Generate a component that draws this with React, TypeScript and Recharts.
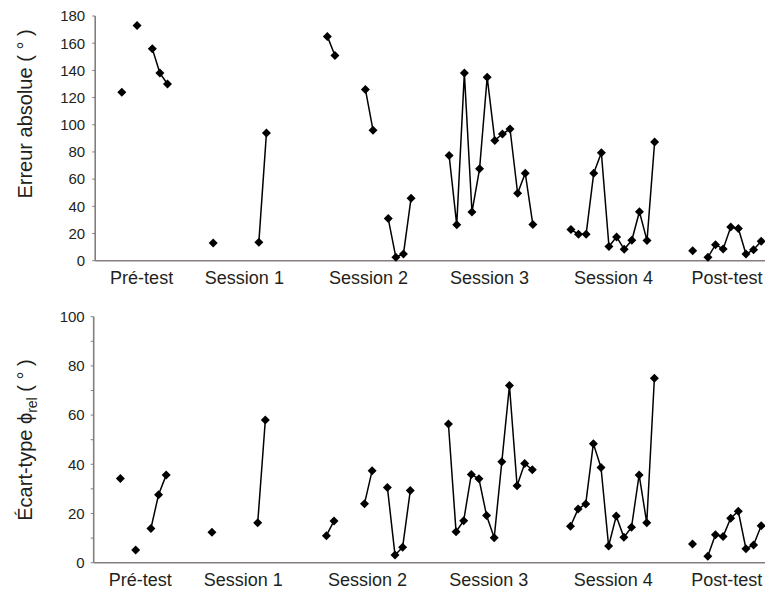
import React from 'react';
import { LineChart, Line, XAxis, YAxis } from 'recharts';

// Category (group) labels and where they sit along the trial index axis
const sessionLabels = ['Pré-test', 'Session 1', 'Session 2', 'Session 3', 'Session 4', 'Post-test'];
const labelPositions = [5.6, 19.1, 35.4, 51.3, 67.6, 82.5];
const GAP = 4; // empty trial slots between sessions

// Erreur absolue (°) per trial, null = no value
const erreurPre = [null, null, null, 124, null, 173, null, 156, 138, 130];
const erreurS1 = [null, 13, null, null, null, null, null, 13.5, 94, null, null, null];
const erreurS2 = [165, 151, null, null, null, 126, 96, null, 31, 2.5, 5, 46];
const erreurS3 = [77.4, 26.4, 138, 35.8, 67.6, 135, 88.5, 93.2, 96.9, 49.6, 64.4, 26.6];
const erreurS4 = [22.9, 19.5, 19.5, 64.4, 79.4, 10.4, 17.5, 8.4, 15, 36, 14.8, 87.3];
const erreurPost = [7.4, null, 2.5, 11.8, 8.6, 24.7, 23.7, 4.9, 8.1, 14.3];

// Écart-type phi_rel (°) per trial
const ecartPre = [null, null, null, 34.2, null, 5.2, null, 13.9, 27.6, 35.6];
const ecartS1 = [null, 12.4, null, null, null, null, null, 16.2, 58, null, null, null];
const ecartS2 = [11, 17, null, null, null, 24, 37.4, null, 30.6, 3.1, 6.3, 29.3];
const ecartS3 = [56.4, 12.6, 17.1, 35.9, 34.1, 19.2, 10.1, 41, 72, 31.3, 40.3, 37.8];
const ecartS4 = [14.8, 21.8, 23.9, 48.4, 38.7, 6.8, 19, 10.3, 14.4, 35.7, 16.2, 75];
const ecartPost = [7.6, null, 2.6, 11.4, 10.6, 18.1, 20.9, 5.7, 7.2, 15];

const erreurTicks = [0, 20, 40, 60, 80, 100, 120, 140, 160, 180];
const ecartTicks = [0, 10, 20, 30, 40, 50, 60, 70, 80, 90, 100];

function build(sessions: (number | null)[][]) {
  const out: { i: number; v: number | null }[] = [];
  sessions.forEach((s, k) => {
    if (k > 0) for (let g = 0; g < GAP; g++) out.push({ i: out.length, v: null });
    s.forEach((v) => out.push({ i: out.length, v }));
  });
  return out;
}

const erreurData = build([erreurPre, erreurS1, erreurS2, erreurS3, erreurS4, erreurPost]);
const ecartData = build([ecartPre, ecartS1, ecartS2, ecartS3, ecartS4, ecartPost]);
const N = erreurData.length;

const AXIS = '#867e7e';
const TEXT = '#231f20';
const FONT = '"Liberation Sans", Arial, sans-serif';

const Diamond = (p: any) => {
  const { cx, cy, index } = p;
  const v = p.payload ? p.payload.v : p.value;
  if (v == null || cx == null || cy == null || isNaN(cy)) return <g key={`n${index}`} />;
  const r = 4.5;
  return (
    <path
      key={`d${index}`}
      d={`M${cx},${cy - r}L${cx + r},${cy}L${cx},${cy + r}L${cx - r},${cy}Z`}
      fill="#000"
      stroke="none"
    />
  );
};

const xTickFmt = (_v: any, i: number) => sessionLabels[i] ?? '';

export default function App() {
  return (
    <div style={{ position: 'absolute', left: 0, top: 0, width: 766, height: 596, background: '#fff', fontFamily: FONT }}>
      <div style={{ position: 'absolute', left: 0, top: 0 }}>
        <LineChart width={766} height={300} data={erreurData} margin={{ top: 16, right: 1, bottom: 0, left: 0 }}>
          <XAxis
            dataKey="i"
            type="number"
            domain={[-0.5, N - 0.5]}
            ticks={labelPositions}
            interval={0}
            tickFormatter={xTickFmt}
            tickLine={false}
            tickSize={0}
            tickMargin={11}
            height={39.3}
            axisLine={{ stroke: AXIS, strokeWidth: 1.6 }}
            tick={{ fill: TEXT, fontSize: 18, fontFamily: FONT }}
            allowDataOverflow
          />
          <YAxis
            type="number"
            domain={[0, 180]}
            ticks={erreurTicks}
            interval={0}
            width={95.2}
            tickSize={3}
            tickMargin={7}
            axisLine={{ stroke: AXIS, strokeWidth: 1.6 }}
            tickLine={{ stroke: AXIS }}
            tick={{ fill: TEXT, fontSize: 15, fontFamily: FONT }}
          />
          <Line
            dataKey="v"
            stroke="#000"
            strokeWidth={1.5}
            connectNulls={false}
            isAnimationActive={false}
            dot={Diamond}
            activeDot={false}
          />
        </LineChart>
      </div>
      <div style={{ position: 'absolute', left: 0, top: 300 }}>
        <LineChart width={766} height={296} data={ecartData} margin={{ top: 16.7, right: 1, bottom: 0, left: 0 }}>
          <XAxis
            dataKey="i"
            type="number"
            domain={[-0.5, N - 0.5]}
            ticks={labelPositions}
            interval={0}
            tickFormatter={xTickFmt}
            tickLine={false}
            tickSize={0}
            tickMargin={11}
            height={33.3}
            axisLine={{ stroke: AXIS, strokeWidth: 1.6 }}
            tick={{ fill: TEXT, fontSize: 18, fontFamily: FONT }}
            allowDataOverflow
          />
          <YAxis
            type="number"
            domain={[0, 100]}
            ticks={ecartTicks}
            interval={0}
            width={93.7}
            tickSize={3}
            tickMargin={6}
            tickFormatter={(v: number) => (v % 20 === 0 ? String(v) : '')}
            axisLine={{ stroke: AXIS, strokeWidth: 1.6 }}
            tickLine={{ stroke: AXIS }}
            tick={{ fill: TEXT, fontSize: 15, fontFamily: FONT }}
          />
          <Line
            dataKey="v"
            stroke="#000"
            strokeWidth={1.5}
            connectNulls={false}
            isAnimationActive={false}
            dot={Diamond}
            activeDot={false}
          />
        </LineChart>
      </div>
      <svg width={766} height={596} style={{ position: 'absolute', left: 0, top: 0, pointerEvents: 'none' }}>
        <text
          x={32}
          y={114}
          transform="rotate(-90 32 114)"
          textAnchor="middle"
          fill={TEXT}
          fontSize={20}
          fontFamily={FONT}
        >
          Erreur absolue ( ° )
        </text>
        <text
          x={32}
          y={440}
          transform="rotate(-90 32 440)"
          textAnchor="middle"
          fill={TEXT}
          fontSize={20}
          fontFamily={FONT}
        >
          Écart-type ϕ
          <tspan fontSize={14} dy={5}>rel</tspan>
          <tspan dy={-5}> ( ° )</tspan>
        </text>
      </svg>
    </div>
  );
}
